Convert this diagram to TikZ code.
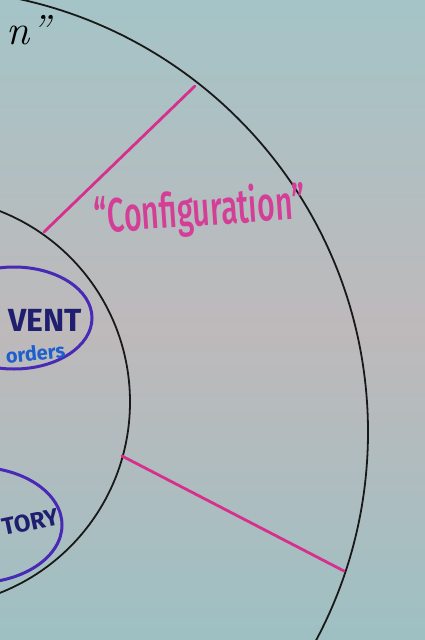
\documentclass[tikz,border=0pt]{standalone}
\usepackage{fontspec}
\setmainfont{Fira Sans}
\newfontfamily\handfont{Fira Sans Medium}
\newfontfamily\serifit{Latin Modern Roman}
\definecolor{bgtop}{RGB}{164,196,199}
\definecolor{bgmid}{RGB}{190,185,187}
\definecolor{bgbot}{RGB}{158,192,195}
\definecolor{pinkmark}{RGB}{214,48,140}
\definecolor{pinktext}{RGB}{212,62,150}
\definecolor{purplemark}{RGB}{72,42,182}
\definecolor{navymark}{RGB}{32,30,110}
\definecolor{bluemark}{RGB}{30,95,205}
\begin{document}
\begin{tikzpicture}[x=1pt,y=-1pt,
  ring/.style={draw=black!90,line width=1.8pt},
  divider/.style={draw=pinkmark,line width=2.8pt,line cap=round},
  bubble/.style={draw=purplemark,line width=3pt},
  lbl/.style={inner sep=0pt,outer sep=0pt}]
\useasboundingbox (0,0) rectangle (425,640);
\clip (0,0) rectangle (425,640);
\shade[top color=bgtop,bottom color=bgmid] (0,0) rectangle (425,330);
\shade[top color=bgmid,bottom color=bgbot] (0,330) rectangle (425,640);
% rings
\draw[ring] (-75,432) circle[radius=443];
\draw[ring] (-75,402) circle[radius=205];
% dividers
\coordinate (u1) at (195,86);
\coordinate (u2) at (44,232);
\coordinate (l1) at (122,456);
\coordinate (l2) at (344,571);
\draw[divider] (u1) -- (u2);
\draw[divider] (l1) -- (l2);
% label
\node[lbl,text=pinktext,rotate=4] (conf) at (200,212)
  {\scalebox{0.63}[1]{\handfont\fontsize{48}{52}\selectfont “Configuration”}};
% top-left partial text
\node[lbl,anchor=east] (topword) at (50,30) {\serifit\itshape\fontsize{42}{46}\selectfont n”};
% bubbles
\draw[bubble] (14,318) ellipse[x radius=78,y radius=51];
\node[lbl,anchor=east,text=navymark] (event) at (82,320) {\bfseries\fontsize{32}{34}\selectfont VENT};
\node[lbl,anchor=east,text=bluemark,rotate=6] (orders) at (65,350) {\bfseries\fontsize{20}{22}\selectfont orders};
\draw[bubble] (-25,525) ellipse[x radius=87,y radius=58];
\node[lbl,anchor=east,text=navymark,rotate=12] (story) at (58,516) {\bfseries\fontsize{24}{26}\selectfont TORY};
\end{tikzpicture}
\end{document}
